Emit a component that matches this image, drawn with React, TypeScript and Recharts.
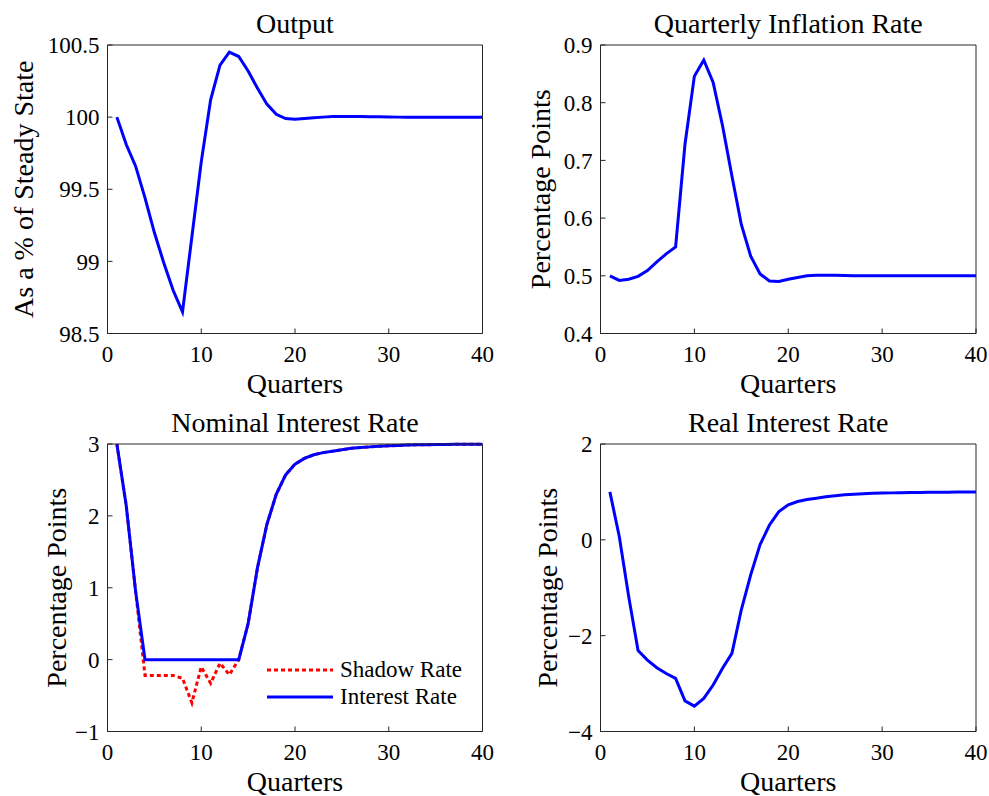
import { LineChart, Line, XAxis, YAxis, Legend } from 'recharts';

const quarters = [1, 2, 3, 4, 5, 6, 7, 8, 9, 10, 11, 12, 13, 14, 15, 16, 17, 18, 19, 20,
  21, 22, 23, 24, 25, 26, 27, 28, 29, 30, 31, 32, 33, 34, 35, 36, 37, 38, 39, 40];

const outputLevel = [100.0, 99.81, 99.66, 99.44, 99.2, 98.99, 98.8, 98.65, 99.17, 99.69,
  100.12, 100.36, 100.45, 100.42, 100.32, 100.2, 100.09, 100.02, 99.99, 99.985,
  99.99, 99.995, 100.0, 100.004, 100.005, 100.005, 100.004, 100.003, 100.002, 100.001,
  100.0, 100.0, 100.0, 100.0, 100.0, 100.0, 100.0, 100.0, 100.0, 100.0];

const inflationRate = [0.5, 0.492, 0.494, 0.499, 0.509, 0.524, 0.538, 0.55, 0.728, 0.846,
  0.874, 0.835, 0.76, 0.673, 0.589, 0.534, 0.503, 0.491, 0.49, 0.494,
  0.497, 0.5, 0.501, 0.501, 0.501, 0.5005, 0.5, 0.5, 0.5, 0.5,
  0.5, 0.5, 0.5, 0.5, 0.5, 0.5, 0.5, 0.5, 0.5, 0.5];

const shadowRate = [3.0, 2.14, 0.95, -0.22, -0.22, -0.22, -0.22, -0.26, -0.6, -0.1,
  -0.33, -0.05, -0.21, 0, 0.5, 1.28, 1.88, 2.3, 2.57, 2.72,
  2.8, 2.85, 2.88, 2.9, 2.92, 2.94, 2.95, 2.96, 2.97, 2.975,
  2.98, 2.985, 2.988, 2.99, 2.992, 2.994, 2.995, 2.996, 2.997, 2.998];

const interestRate = [3.0, 2.14, 0.95, 0, 0, 0, 0, 0, 0, 0,
  0, 0, 0, 0, 0.5, 1.28, 1.88, 2.3, 2.57, 2.72,
  2.8, 2.85, 2.88, 2.9, 2.92, 2.94, 2.95, 2.96, 2.97, 2.975,
  2.98, 2.985, 2.988, 2.99, 2.992, 2.994, 2.995, 2.996, 2.997, 2.998];

const realRate = [1.0, 0.07, -1.18, -2.31, -2.51, -2.67, -2.79, -2.89, -3.36, -3.47,
  -3.31, -3.03, -2.68, -2.37, -1.46, -0.73, -0.1, 0.31, 0.59, 0.73,
  0.8, 0.84, 0.87, 0.9, 0.92, 0.94, 0.95, 0.96, 0.97, 0.975,
  0.98, 0.985, 0.988, 0.99, 0.992, 0.994, 0.995, 0.996, 0.997, 0.998];

const xTicks = [0, 10, 20, 30, 40];
const outputTicks = [98.5, 99, 99.5, 100, 100.5];
const inflationTicks = [0.4, 0.5, 0.6, 0.7, 0.8, 0.9];
const nominalTicks = [-1, 0, 1, 2, 3];
const realTicks = [-4, -2, 0, 2];

const W = 989;
const H = 796;
const FONT = '"Liberation Serif", serif';
const AXIS = '#262626';
const BLUE = '#0000ff';
const RED = '#ff0000';

const rows = quarters.map((q, i) => ({
  q,
  output: outputLevel[i],
  inflation: inflationRate[i],
  shadow: shadowRate[i],
  interest: interestRate[i],
  real: realRate[i],
}));

const fmt = (v: number) => (v < 0 ? '\u2212' + String(-v) : String(v));

type Box = [number, number, number, number];

function Panel({ box, domain, ticks, lines, legend }: {
  box: Box; domain: [number, number]; ticks: number[]; lines: any[]; legend?: boolean;
}) {
  const [l, t, r, b] = box;
  const tickStyle = { fill: '#000', fontSize: 23, fontFamily: FONT };
  return (
    <div style={{ position: 'absolute', left: 0, top: 0 }}>
      <LineChart width={W} height={H} data={rows}
        margin={{ top: t - 1, left: l - 60, right: W - r - 1, bottom: H - b - 40 }}>
        <XAxis xAxisId="b" dataKey="q" type="number" domain={[0, 40]} ticks={xTicks}
          height={40} tickSize={-5} tickMargin={17} stroke={AXIS} tick={tickStyle} />
        <XAxis xAxisId="t" orientation="top" dataKey="q" type="number" domain={[0, 40]}
          ticks={xTicks} height={1} tickSize={-5} tick={false} stroke={AXIS} />
        <YAxis yAxisId="l" width={60} type="number" domain={domain} ticks={ticks}
          tickSize={-5} tickMargin={13} stroke={AXIS} tick={tickStyle} tickFormatter={fmt} />
        <YAxis yAxisId="r" orientation="right" width={1} type="number" domain={domain}
          ticks={ticks} tickSize={-5} tick={false} stroke={AXIS} />
        {lines.map((ln) => (
          <Line key={ln.key} xAxisId="b" yAxisId="l" dataKey={ln.key} name={ln.name}
            stroke={ln.color} strokeWidth={3} strokeDasharray={ln.dash} dot={false}
            type="linear" isAnimationActive={false} />
        ))}
        {legend && (
          <Legend layout="vertical" align="center" verticalAlign="middle"
            wrapperStyle={{ position: 'absolute', left: 264, top: 656, width: 220 }}
            content={() => (
              <div style={{ fontFamily: FONT, fontSize: 23, color: '#000' }}>
                {lines.map((ln) => (
                  <div key={ln.key} style={{ display: 'flex', alignItems: 'center', height: 27 }}>
                    <svg width={72} height={10}>
                      <line x1={3} y1={5} x2={69} y2={5} stroke={ln.color} strokeWidth={3}
                        strokeDasharray={ln.dash} />
                    </svg>
                    <span style={{ marginLeft: 4 }}>{ln.name}</span>
                  </div>
                ))}
              </div>
            )} />
        )}
      </LineChart>
    </div>
  );
}

const TL: Box = [107.5, 45, 482.5, 333.5];
const TR: Box = [600.5, 45, 976, 333.5];
const BL: Box = [107.5, 444, 482.5, 731.5];
const BR: Box = [600.5, 444, 976, 731.5];

function Texts() {
  const title = (box: Box, text: string) => (
    <text x={(box[0] + box[2]) / 2} y={box[1] - 12} textAnchor="middle">{text}</text>
  );
  const xlabel = (box: Box, text: string) => (
    <text x={(box[0] + box[2]) / 2} y={box[3] + 59} textAnchor="middle">{text}</text>
  );
  const ylabel = (box: Box, x: number, text: string) => {
    const cy = (box[1] + box[3]) / 2;
    return (
      <text x={x} y={cy} transform={`rotate(-90 ${x} ${cy})`} textAnchor="middle">{text}</text>
    );
  };
  return (
    <svg width={W} height={H} style={{ position: 'absolute', left: 0, top: 0, pointerEvents: 'none', fontFamily: FONT }}
      fontSize={28} fill="#000">
      {title(TL, 'Output')}
      {title(TR, 'Quarterly Inflation Rate')}
      {title(BL, 'Nominal Interest Rate')}
      {title(BR, 'Real Interest Rate')}
      {xlabel(TL, 'Quarters')}
      {xlabel(TR, 'Quarters')}
      {xlabel(BL, 'Quarters')}
      {xlabel(BR, 'Quarters')}
      {ylabel(TL, 33, 'As a % of Steady State')}
      {ylabel(TR, 550, 'Percentage Points')}
      {ylabel(BL, 66, 'Percentage Points')}
      {ylabel(BR, 557, 'Percentage Points')}
    </svg>
  );
}

export default function App() {
  return (
    <div style={{ position: 'absolute', left: 0, top: 0, width: W, height: H, background: '#fff', fontFamily: FONT }}>
      <Panel box={TL} domain={[98.5, 100.5]} ticks={outputTicks}
        lines={[{ key: 'output', name: 'Output', color: BLUE }]} />
      <Panel box={TR} domain={[0.4, 0.9]} ticks={inflationTicks}
        lines={[{ key: 'inflation', name: 'Inflation', color: BLUE }]} />
      <Panel box={BL} domain={[-1, 3]} ticks={nominalTicks} legend
        lines={[
          { key: 'shadow', name: 'Shadow Rate', color: RED, dash: '4 3' },
          { key: 'interest', name: 'Interest Rate', color: BLUE },
        ]} />
      <Panel box={BR} domain={[-4, 2]} ticks={realTicks}
        lines={[{ key: 'real', name: 'Real', color: BLUE }]} />
      <Texts />
    </div>
  );
}
